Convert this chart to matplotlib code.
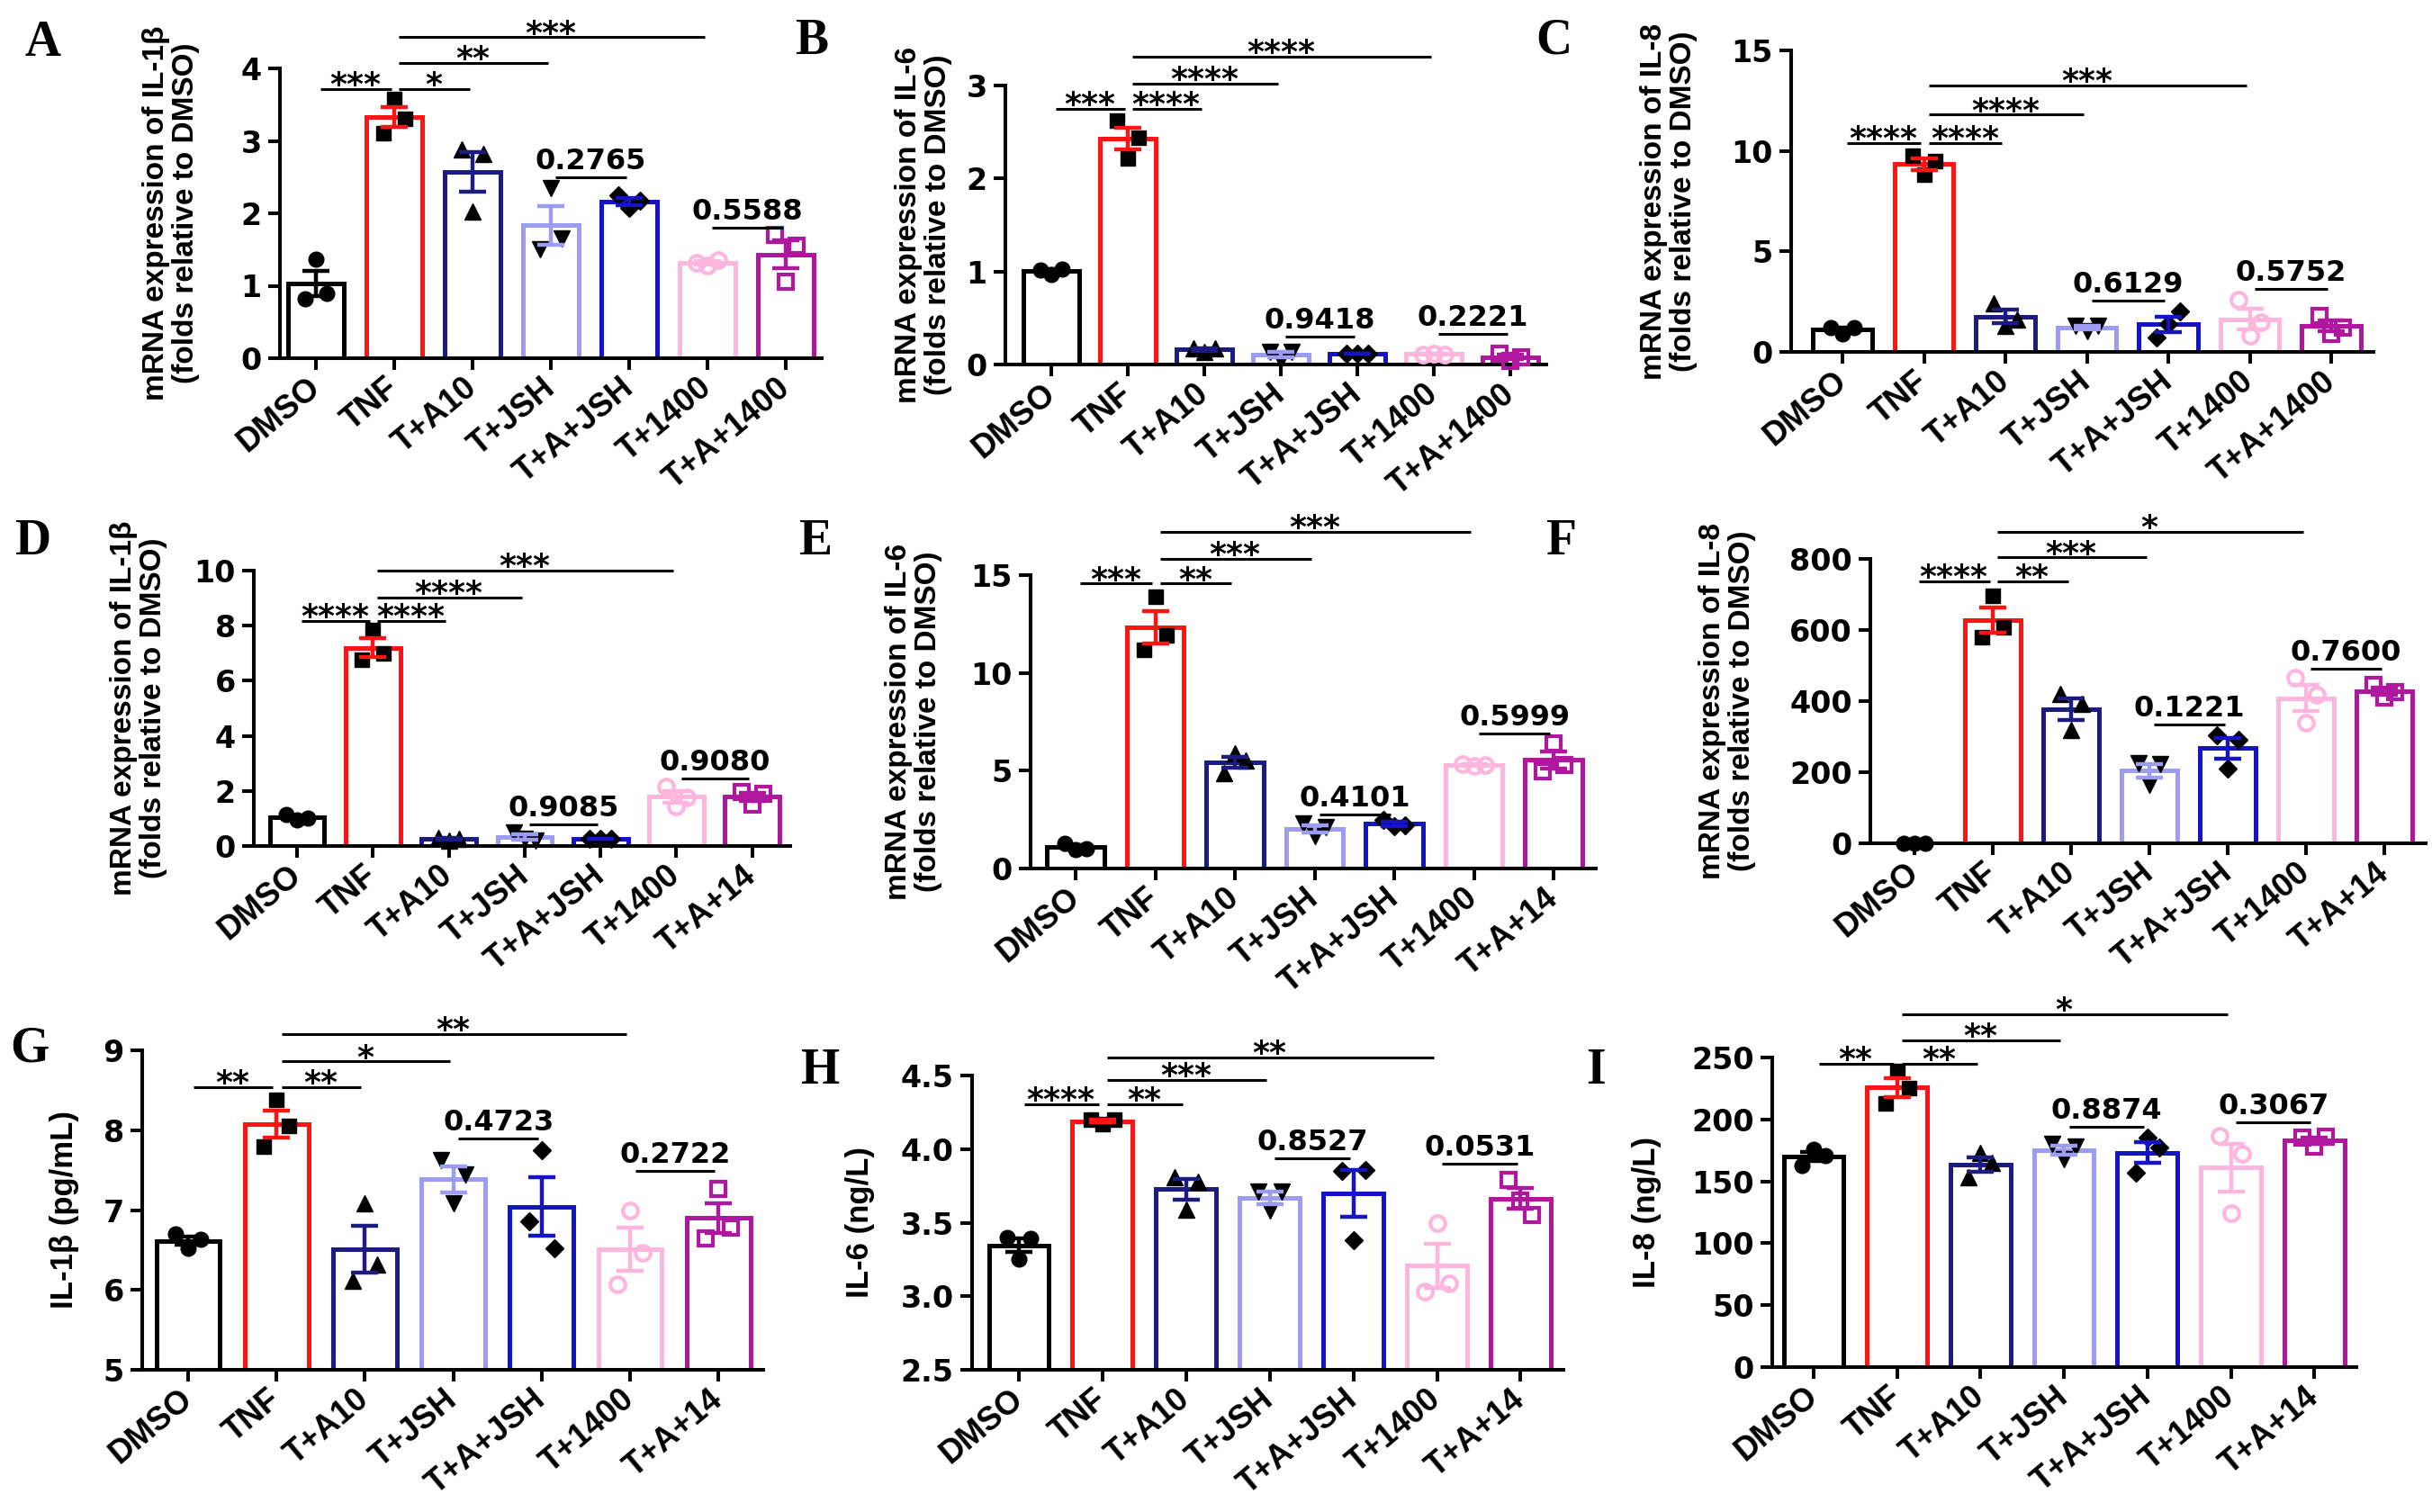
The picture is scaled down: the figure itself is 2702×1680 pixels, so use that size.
import numpy as np
import matplotlib
matplotlib.use("Agg")
import matplotlib.pyplot as plt
from matplotlib import font_manager
from matplotlib.ticker import MultipleLocator, FormatStrFormatter

plt.rcParams['font.family'] = ['Liberation Sans', 'DejaVu Sans']
plt.rcParams['font.weight'] = 'bold'
plt.rcParams['axes.labelweight'] = 'bold'

# ---------------- data ----------------
GROUPS_TOP = ["DMSO", "TNF", "T+A10", "T+JSH", "T+A+JSH", "T+1400", "T+A+1400"]
GROUPS_LOW = ["DMSO", "TNF", "T+A10", "T+JSH", "T+A+JSH", "T+1400", "T+A+14"]

# replicate values per group (left, centre, right point)
A_IL1B_MRNA = [[0.82, 1.37, 0.90], [3.10, 3.58, 3.30], [2.88, 2.02, 2.82], [1.50, 2.35, 1.65],
               [2.25, 2.08, 2.17], [1.32, 1.28, 1.35], [1.70, 1.05, 1.55]]
B_IL6_MRNA = [[1.02, 0.97, 1.03], [2.62, 2.22, 2.44], [0.17, 0.14, 0.17], [0.14, 0.05, 0.14],
              [0.12, 0.12, 0.12], [0.11, 0.12, 0.11], [0.12, 0.04, 0.08]]
C_IL8_MRNA = [[1.2, 0.9, 1.2], [9.75, 8.8, 9.5], [2.4, 1.3, 1.6], [1.3, 1.05, 1.3],
              [0.7, 1.4, 2.0], [2.6, 0.8, 1.5], [1.8, 0.9, 1.2]]
D_IL1B_MRNA = [[1.15, 0.95, 1.0], [6.75, 7.85, 7.0], [0.3, 0.2, 0.25], [0.5, 0.25, 0.2],
               [0.25, 0.25, 0.25], [2.15, 1.45, 1.75], [1.95, 1.5, 1.9]]
E_IL6_MRNA = [[1.3, 0.95, 1.0], [11.2, 13.9, 11.9], [4.9, 5.9, 5.5], [2.3, 1.65, 2.1],
              [2.5, 2.15, 2.2], [5.35, 5.25, 5.3], [4.95, 6.4, 5.3]]
F_IL8_MRNA = [[1, 1, 1], [580, 695, 608], [421, 320, 392], [225, 165, 222],
              [303, 210, 290], [466, 340, 418], [445, 410, 425]]
G_IL1B_PROT = [[6.70, 6.52, 6.63], [7.80, 8.38, 8.05], [6.12, 7.08, 6.32], [7.62, 7.08, 7.45],
               [6.86, 7.75, 6.52], [6.07, 6.99, 6.47], [6.65, 7.27, 6.78]]
H_IL6_PROT = [[3.40, 3.25, 3.39], [4.20, 4.17, 4.20], [3.81, 3.59, 3.78], [3.71, 3.58, 3.71],
              [3.85, 3.38, 3.86], [3.03, 3.50, 3.09], [3.79, 3.65, 3.55]]
I_IL8_PROT = [[163, 176, 171], [213, 239, 225], [153, 173, 165], [180, 168, 178],
              [157, 185, 177], [187, 124, 172], [185, 178, 186]]

# significance comparisons: (group i, group j, bracket level, label)
A_SIG = [(0, 1, 3.72, "***"), (1, 2, 3.72, "*"), (1, 3, 4.08, "**"), (1, 5, 4.43, "***"),
         (3, 4, 2.50, "0.2765"), (5, 6, 1.80, "0.5588")]
B_SIG = [(0, 1, 2.75, "***"), (1, 2, 2.75, "****"), (1, 3, 3.02, "****"), (1, 5, 3.31, "****"),
         (3, 4, 0.30, "0.9418"), (5, 6, 0.33, "0.2221")]
C_SIG = [(0, 1, 10.4, "****"), (1, 2, 10.4, "****"), (1, 3, 11.8, "****"), (1, 5, 13.25, "***"),
         (3, 4, 2.53, "0.6129"), (5, 6, 3.13, "0.5752")]
D_SIG = [(0, 1, 8.17, "****"), (1, 2, 8.17, "****"), (1, 3, 9.02, "****"), (1, 5, 10.0, "***"),
         (3, 4, 0.78, "0.9085"), (5, 6, 2.45, "0.9080")]
E_SIG = [(0, 1, 14.57, "***"), (1, 2, 14.57, "**"), (1, 3, 15.85, "***"), (1, 5, 17.2, "***"),
         (3, 4, 2.75, "0.4101"), (5, 6, 6.92, "0.5999")]
F_SIG = [(0, 1, 737, "****"), (1, 2, 737, "**"), (1, 3, 804, "***"), (1, 5, 877, "*"),
         (3, 4, 333, "0.1221"), (5, 6, 490, "0.7600")]
G_SIG = [(0, 1, 8.54, "**"), (1, 2, 8.54, "**"), (1, 3, 8.86, "*"), (1, 5, 9.2, "**"),
         (3, 4, 7.90, "0.4723"), (5, 6, 7.49, "0.2722")]
H_SIG = [(0, 1, 4.305, "****"), (1, 2, 4.305, "**"), (1, 3, 4.47, "***"), (1, 5, 4.625, "**"),
         (3, 4, 3.94, "0.8527"), (5, 6, 3.90, "0.0531")]
I_SIG = [(0, 1, 245, "**"), (1, 2, 245, "**"), (1, 3, 264, "**"), (1, 5, 285, "*"),
         (3, 4, 194, "0.8874"), (5, 6, 198, "0.3067")]

YLAB_IL1B = "mRNA expression of IL-1\u03b2\n(folds relative to DMSO)"
YLAB_IL6 = "mRNA expression of IL-6\n(folds relative to DMSO)"
YLAB_IL8 = "mRNA expression of IL-8\n(folds relative to DMSO)"

# ---------------- style ----------------
COLORS = ["#000000", "#ff1414", "#1c1c80", "#9c9cf2", "#1414c4", "#ffb6de", "#b0179f"]
MARKERS = ["o", "s", "^", "v", "D", "o", "s"]
MSIZES = [12, 12, 13, 13, 10, 12, 12]
FILLED = [True, True, True, True, True, False, False]
OFFSETS = [-0.14, 0.0, 0.14]

_names = {f.name for f in font_manager.fontManager.ttflist}
if "Liberation Sans Narrow" in _names:
    YLAB_FAMILY, YLAB_SCALE = ["Liberation Sans Narrow", "DejaVu Sans"], 1.2
else:
    YLAB_FAMILY, YLAB_SCALE = ["Liberation Sans", "DejaVu Sans"], 1.0
NUM_FAMILY = ["DejaVu Sans"]

W, H = 2702, 1680
fig = plt.figure(figsize=(W / 100, H / 100), dpi=100)

# panel layout in pixels:
# (axis_left, first_bar_centre, unit, axis_right, y_bottom, y_top), ylabel centre x, size, letter xy
PANELS = [
    ("A", A_IL1B_MRNA, A_SIG, GROUPS_TOP, (0, 4), 1, YLAB_IL1B, "%d", (311, 351, 87.0, 913, 398, 76), 190, 24, (48, 48)),
    ("B", B_IL6_MRNA, B_SIG, GROUPS_TOP, (0, 3), 1, YLAB_IL6, "%d", (1117, 1168, 85.0, 1718, 405, 95), 1026, 24, (902, 46)),
    ("C", C_IL8_MRNA, C_SIG, GROUPS_TOP, (0, 15), 5, YLAB_IL8, "%d", (1990, 2047, 90.5, 2637, 391, 56), 1854, 24, (1726, 46)),
    ("D", D_IL1B_MRNA, D_SIG, GROUPS_LOW, (0, 10), 2, YLAB_IL1B, "%d", (282, 330, 84.3, 878, 940, 634), 154, 24, (36, 602)),
    ("E", E_IL6_MRNA, E_SIG, GROUPS_LOW, (0, 15), 5, YLAB_IL6, "%d", (1145, 1195, 88.5, 1773, 965, 639), 1015, 24, (906, 602)),
    ("F", F_IL8_MRNA, F_SIG, GROUPS_LOW, (0, 800), 200, YLAB_IL8, "%d", (2078, 2127, 87.0, 2695, 937, 621), 1919, 24, (1735, 602)),
    ("G", G_IL1B_PROT, G_SIG, GROUPS_LOW, (5, 9), 1, "IL-1\u03b2 (pg/mL)", "%d", (158, 209, 98.2, 848, 1522, 1167), 71, 25, (33, 1166)),
    ("H", H_IL6_PROT, H_SIG, GROUPS_LOW, (2.5, 4.5), 0.5, "IL-6 (ng/L)", "%.1f", (1080, 1132, 92.9, 1737, 1522, 1195), 955, 25, (912, 1190)),
    ("I", I_IL8_PROT, I_SIG, GROUPS_LOW, (0, 250), 50, "IL-8 (ng/L)", "%d", (1969, 2015, 92.7, 2618, 1519, 1175), 1830, 25, (1773, 1190)),
]


def draw_panel(letter, values, sig, labels, ylim, ystep, ylabel, yfmt, geom, ylab_x, ylab_size, letter_xy):
    axl, c0, unit, axr, yb, yt = geom
    rect = [axl / W, 1 - yb / H, (axr - axl) / W, (yb - yt) / H]
    ax = fig.add_axes(rect)
    xs = np.arange(len(values))
    base = ylim[0]
    for i, vals in enumerate(values):
        v = np.asarray(vals, dtype=float)
        m = v.mean()
        sem = v.std(ddof=1) / np.sqrt(len(v))
        ax.bar(i, m - base, bottom=base, width=0.72, facecolor="white",
               edgecolor=COLORS[i], linewidth=3.6, zorder=2)
        if FILLED[i]:
            mfc, mec = "black", "black"
        else:
            mfc, mec = "none", COLORS[i]
        ax.plot(i + np.array(OFFSETS), v, linestyle="none", marker=MARKERS[i],
                ms=MSIZES[i], mfc=mfc, mec=mec, mew=3 if not FILLED[i] else 1,
                zorder=3, clip_on=False)
        ax.errorbar(i, m, yerr=sem, fmt="none", ecolor=COLORS[i], elinewidth=3.2,
                    capsize=11, capthick=3.2, zorder=4, clip_on=False)

    ax.set_xlim((axl - c0) / unit, (axr - c0) / unit)
    ax.set_ylim(*ylim)
    ax.yaxis.set_major_locator(MultipleLocator(ystep))
    ax.yaxis.set_major_formatter(FormatStrFormatter(yfmt))
    ax.set_xticks(xs)
    ax.set_xticklabels(labels, rotation=40, ha="right", va="center",
                       rotation_mode="anchor", fontsize=26, fontweight="bold")
    ax.tick_params(axis="y", labelsize=24, width=2.9, length=9.5, pad=5,
                   labelfontfamily=NUM_FAMILY[0])
    ax.tick_params(axis="x", width=2.9, length=9.5, pad=11)
    for lab in ax.get_yticklabels():
        lab.set_fontweight("bold")
    for s in ("top", "right"):
        ax.spines[s].set_visible(False)
    for s in ("left", "bottom"):
        ax.spines[s].set_linewidth(2.9)

    ax.set_ylabel(ylabel, fontsize=ylab_size * YLAB_SCALE, fontweight="bold",
                  family=YLAB_FAMILY, multialignment="center", linespacing=1.1)
    ax.yaxis.set_label_coords((ylab_x - axl) / (axr - axl), 0.5)
    ax.yaxis.label.set_verticalalignment("center")

    for (i, j, lev, txt) in sig:
        ax.plot([i + 0.06, j - 0.04], [lev, lev], color="black", lw=2.2,
                clip_on=False, zorder=5, solid_capstyle="butt")
        if txt.startswith("*"):
            ax.annotate(txt, xy=((i + j) / 2, lev), xytext=(0, -4.5),
                        textcoords="offset points", ha="center", va="baseline",
                        fontsize=26, fontweight="bold", family=NUM_FAMILY,
                        annotation_clip=False)
        else:
            ax.annotate(txt, xy=((i + j) / 2 + 0.01, lev), xytext=(0, 6.5),
                        textcoords="offset points", ha="center", va="baseline",
                        fontsize=23, fontweight="bold", family=NUM_FAMILY,
                        annotation_clip=False)

    fig.text(letter_xy[0] / W, 1 - letter_xy[1] / H, letter, fontsize=40,
             family=["Liberation Serif", "DejaVu Serif"], fontweight="bold",
             ha="center", va="center")


for p in PANELS:
    draw_panel(*p)

fig.savefig("out.png", dpi=100, facecolor="white")
